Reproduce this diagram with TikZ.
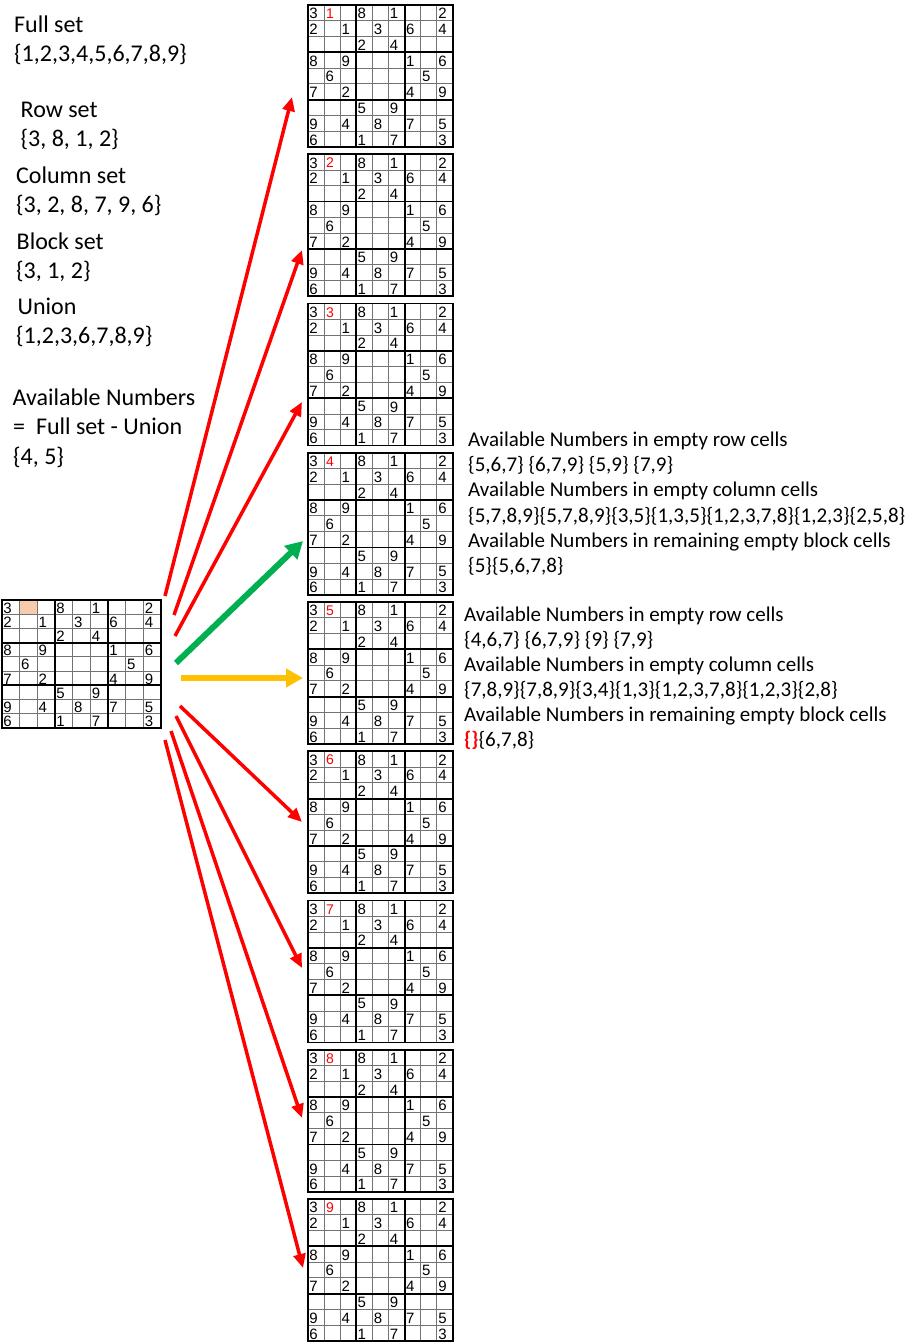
\documentclass[tikz,border=0pt]{standalone}
\usepackage{fontspec}
\setmainfont{Carlito}
\newfontfamily\arialf{Liberation Sans}
\newcommand{\sureddigfont}{\arialf\fontsize{14}{15}\selectfont}
\usetikzlibrary{arrows.meta}
\definecolor{peach}{HTML}{F8CBAD}
\definecolor{arrred}{HTML}{FF0000}
\definecolor{arrgreen}{HTML}{00B050}
\definecolor{arryellow}{HTML}{FFC000}
\tikzset{
  thinln/.style={draw=black!55, line width=0.9pt},
  thickln/.style={draw=black, line width=1.8pt, line cap=rect},
  sudigit/.style={anchor=west, inner sep=0pt},
  reddigit/.style={anchor=west, inner sep=0pt, text=red, font=\sureddigfont},
  lefttxt/.style={anchor=base west, inner sep=0pt, font=\fontsize{24}{29}\selectfont},
  righttxt/.style={anchor=base west, inner sep=0pt, font=\fontsize{21}{25}\selectfont},
  redarrow/.style={draw=arrred, line width=3.5pt, -{Triangle[length=14pt,width=12pt]}},
  greenarrow/.style={draw=arrgreen, line width=6pt, -{Triangle[length=17pt,width=18pt]}},
  yellowarrow/.style={draw=arryellow, line width=6pt, -{Triangle[length=17pt,width=18pt]}},
}
\newcommand{\sudokugrid}[5]{%
  \begin{scope}[shift={(#2,#3)}]
    \foreach \ii in {1,2,4,5,7,8}{
      \draw[thinln] ({\ii*#4},0) -- ({\ii*#4},{9*#5});
      \draw[thinln] (0,{\ii*#5}) -- ({9*#4},{\ii*#5});
    }
    \foreach \ii in {0,3,6,9}{
      \draw[thickln] ({\ii*#4},0) -- ({\ii*#4},{9*#5});
      \draw[thickln] (0,{\ii*#5}) -- ({9*#4},{\ii*#5});
    }
    \foreach \gr/\gc/\gd in {1/1/3,1/4/8,1/6/1,1/9/2,
        2/1/2,2/3/1,2/5/3,2/7/6,2/9/4,
        3/4/2,3/6/4,
        4/1/8,4/3/9,4/7/1,4/9/6,
        5/2/6,5/8/5,
        6/1/7,6/3/2,6/7/4,6/9/9,
        7/4/5,7/6/9,
        8/1/9,8/3/4,8/5/8,8/7/7,8/9/5,
        9/1/6,9/4/1,9/6/7,9/9/3}{
      \node[sudigit] (#1-\gr-\gc) at ({(\gc-1)*#4+1.2},{(\gr-0.5)*#5+0.8}) {\fontsize{15}{16}\arialf\selectfont\gd};
    }
  \end{scope}}
\begin{document}
\begin{tikzpicture}[x=1pt,y=-1pt]
\useasboundingbox[fill=white] (0,0) rectangle (918,1344);

% left text
\node[lefttxt] (fs1) at (14,32.3) {Full set};
\node[lefttxt] (fs2) at (14,61.5) {\{1,2,3,4,5,6,7,8,9\}};
\node[lefttxt] (rs1) at (20.5,117) {Row set};
\node[lefttxt] (rs2) at (20.5,146.3) {\{3, 8, 1, 2\}};
\node[lefttxt] (cs1) at (16,183.5) {Column set};
\node[lefttxt] (cs2) at (16,212.8) {\{3, 2, 8, 7, 9, 6\}};
\node[lefttxt] (bs1) at (16.5,249.5) {Block set};
\node[lefttxt] (bs2) at (16,278.8) {\{3, 1, 2\}};
\node[lefttxt] (un1) at (17.5,314.3) {Union};
\node[lefttxt] (un2) at (16,343.6) {\{1,2,3,6,7,8,9\}};
\node[lefttxt] (av1) at (12.5,405.5) {Available Numbers};
\node[lefttxt] (av2) at (13,434.8) {=\ \ Full set - Union};
\node[lefttxt] (av3) at (13,464.1) {\{4, 5\}};

% left grid
\fill[peach] ({2+17.67},600) rectangle ({2+2*17.67},{600+14.22});
\sudokugrid{L}{2}{600}{17.67}{14.22}

% right grids
\foreach \k in {1,...,9}{
  \pgfmathsetmacro\gy{5+(\k-1)*149.25}
  \sudokugrid{g\k}{308}{\gy}{16.11}{15.78}
  \node[reddigit] (red\k) at (326,{\gy+8.7}) {\k};
}

% right text block 1
\node[righttxt] (ra1) at (468,446.5) {Available Numbers in empty row cells};
\node[righttxt] (ra2) at (468,471.7) {\{5,6,7\} \{6,7,9\} \{5,9\} \{7,9\}};
\node[righttxt] (ra3) at (468,496.9) {Available Numbers in empty column cells};
\node[righttxt] (ra4) at (468,522.1) {\{5,7,8,9\}\{5,7,8,9\}\{3,5\}\{1,3,5\}\{1,2,3,7,8\}\{1,2,3\}\{2,5,8\}};
\node[righttxt] (ra5) at (468,547.3) {Available Numbers in remaining empty block cells};
\node[righttxt] (ra6) at (468,572.5) {\{5\}\{5,6,7,8\}};

% right text block 2
\node[righttxt] (rb1) at (464,621.7) {Available Numbers in empty row cells};
\node[righttxt] (rb2) at (464,646.6) {\{4,6,7\} \{6,7,9\} \{9\} \{7,9\}};
\node[righttxt] (rb3) at (464,671.5) {Available Numbers in empty column cells};
\node[righttxt] (rb4) at (464,696.4) {\{7,8,9\}\{7,8,9\}\{3,4\}\{1,3\}\{1,2,3,7,8\}\{1,2,3\}\{2,8\}};
\node[righttxt] (rb5) at (464,721.3) {Available Numbers in remaining empty block cells};
\node[righttxt] (rb6) at (464,746.2) {\textcolor{red}{\bfseries\{\}}\{6,7,8\}};

% arrow endpoints
\coordinate (s1) at (165,596);  \coordinate (t1) at (292,97);
\coordinate (s2) at (174,615);  \coordinate (t2) at (302,250);
\coordinate (s3) at (175,636);  \coordinate (t3) at (302,402);
\coordinate (s4) at (176,663);  \coordinate (t4) at (303,541);
\coordinate (s5) at (181,678);  \coordinate (t5) at (303,678);
\coordinate (s6) at (180,706);  \coordinate (t6) at (302,822);
\coordinate (s7) at (176,716);  \coordinate (t7) at (302,968);
\coordinate (s8) at (171,731);  \coordinate (t8) at (302,1118);
\coordinate (s9) at (165,740);  \coordinate (t9) at (303,1268);

\draw[redarrow] (s1) -- (t1);
\draw[redarrow] (s2) -- (t2);
\draw[redarrow] (s3) -- (t3);
\draw[greenarrow] (s4) -- (t4);
\draw[yellowarrow] (s5) -- (t5);
\draw[redarrow] (s6) -- (t6);
\draw[redarrow] (s7) -- (t7);
\draw[redarrow] (s8) -- (t8);
\draw[redarrow] (s9) -- (t9);
\end{tikzpicture}
\end{document}
